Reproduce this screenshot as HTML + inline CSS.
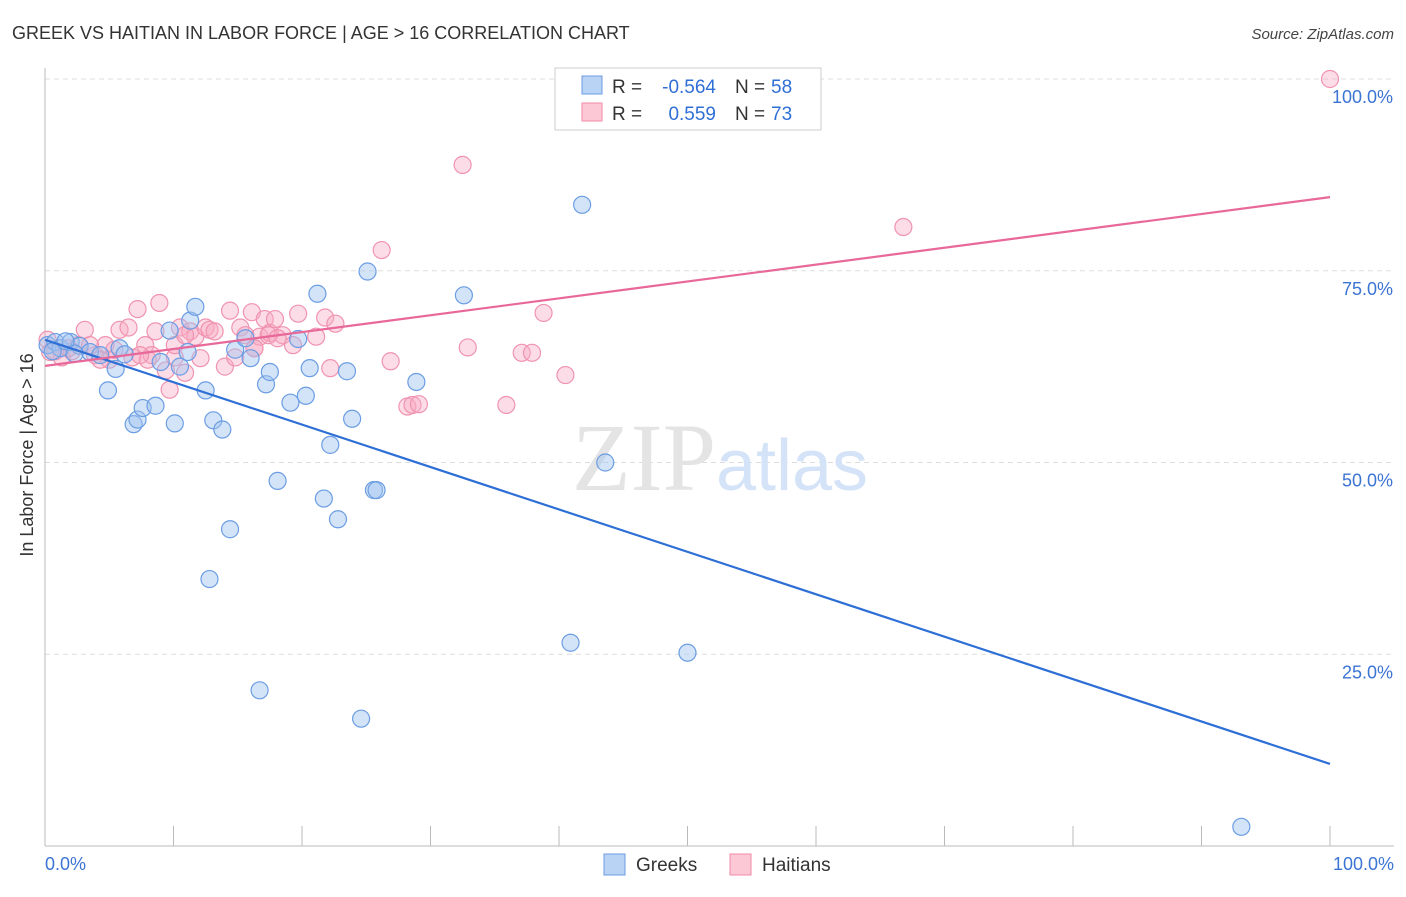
<!DOCTYPE html>
<html><head><meta charset="utf-8"><style>
body{margin:0;background:#fff;font-family:"Liberation Sans",sans-serif}
</style></head><body>
<svg id="chart" width="1406" height="892" xmlns="http://www.w3.org/2000/svg" style="font-family:'Liberation Sans',sans-serif">
<text x="12" y="39" font-size="18" fill="#333">GREEK VS HAITIAN IN LABOR FORCE | AGE &gt; 16 CORRELATION CHART</text>
<text x="1394" y="39" font-size="15" fill="#444" text-anchor="end" font-style="italic">Source: ZipAtlas.com</text>
<g id="grid"></g>
<text x="720" y="490" font-size="96" text-anchor="middle" fill="#e4e4e4" font-family="Liberation Serif">ZIP<tspan fill="#d4e3f7" font-family="Liberation Sans" font-size="72">atlas</tspan></text>
<g id="pts"></g>
<g id="lines"></g>
<text transform="translate(33,455) rotate(-90)" font-size="18" fill="#333" text-anchor="middle">In Labor Force | Age &gt; 16</text>
<g>
<rect x="555" y="68" width="266" height="62" fill="#fff" stroke="#ccc"/>
<rect x="582" y="76" width="20" height="18" fill="#b9d3f5" stroke="#6a9be0"/>
<rect x="582" y="103" width="20" height="18" fill="#fcc8d6" stroke="#f08aa8"/>
<text x="612" y="93" font-size="19" fill="#333">R =</text>
<text x="716" y="93" font-size="19" fill="#2f6fd6" text-anchor="end">-0.564</text>
<text x="735" y="93" font-size="19" fill="#333">N =</text>
<text x="771" y="93" font-size="19" fill="#2f6fd6">58</text>
<text x="612" y="120" font-size="19" fill="#333">R =</text>
<text x="716" y="120" font-size="19" fill="#2f6fd6" text-anchor="end">0.559</text>
<text x="735" y="120" font-size="19" fill="#333">N =</text>
<text x="771" y="120" font-size="19" fill="#2f6fd6">73</text>
</g>
<g>
<rect x="604" y="854" width="21" height="21" fill="#b9d3f5" stroke="#6a9be0"/>
<text x="636" y="871" font-size="19" fill="#333">Greeks</text>
<rect x="730" y="854" width="21" height="21" fill="#fcc8d6" stroke="#f08aa8"/>
<text x="762" y="871" font-size="19" fill="#333">Haitians</text>
</g>
</svg>
<script>
const yTicks=[25,50,75,100];
const yTickLabels=["25.0%","50.0%","75.0%","100.0%"];
const xEndLabels=["0.0%","100.0%"];
const greekX=[0.2,0.8,1.2,2,2.7,3.5,4.3,4.9,5.5,5.8,6.2,6.9,7.2,7.6,8.6,9,9.7,10.1,10.5,11.1,11.3,11.7,12.5,13.1,12.8,13.8,14.4,14.8,15.6,16,16.7,17.2,17.5,18.1,19.1,19.7,20.3,20.6,21.2,21.7,22.2,22.8,23.5,23.9,24.6,25.1,25.6,25.8,28.9,32.6,40.9,41.8,43.6,50,93.1,0.6,1.6,2.3];
const greekY=[65.3,65.7,64.9,65.7,65.2,64.4,64,59.4,62.2,64.9,64.1,55,55.6,57.1,57.4,63.1,67.2,55.1,62.5,64.4,68.5,70.3,59.4,55.5,34.8,54.3,41.3,64.7,66.2,63.6,20.3,60.2,61.8,47.6,57.8,66.1,58.7,62.3,72,45.3,52.3,42.6,61.9,55.7,16.6,74.9,46.4,46.4,60.5,71.8,26.5,83.6,50,25.2,2.5,64.5,65.8,64.2];
const haitX=[0.2,0.8,1.3,2.1,2.6,3.1,3.9,4.7,5,5.8,6.5,6.8,7.2,7.8,8,8.3,8.6,8.9,9.4,9.7,10.1,10.5,10.9,11.3,11.7,12.1,12.5,12.8,13.2,14,14.4,14.8,15.2,15.6,16.1,16.3,16.7,17.1,17.5,17.9,18.5,19.3,19.7,21.1,21.8,22.2,22.6,26.2,26.9,28.2,28.6,29.1,32.5,32.9,35.9,37.1,37.9,38.8,40.5,66.8,100,0.4,1.8,3.5,4.3,5.4,7.4,10.1,10.9,16.3,17.4,18.1];
const haitY=[66,64.5,63.7,64.5,65.3,67.3,64,65.3,63.4,67.3,67.6,63.7,70,65.3,63.4,64,67.1,70.8,62,59.5,63.7,67.6,61.7,67.1,66.4,63.6,67.6,67.3,67.1,62.5,69.8,63.7,67.6,66.6,69.6,64.9,66.4,68.7,66.9,68.7,66.6,65.3,69.4,66.4,68.9,62.3,68.1,77.7,63.2,57.3,57.5,57.6,88.8,65,57.5,64.3,64.3,69.5,61.4,80.7,100,64.4,64.9,65.3,63.4,64.7,64,65.3,66.6,64.9,66.6,66.2];
const fitBlue=[66,10.7], fitPink=[62.6,84.6];
const X=v=>45+v*12.85, Y=v=>846-v*7.67;
const ns="http://www.w3.org/2000/svg";
function mk(t,a,p){const e=document.createElementNS(ns,t);for(const k in a)e.setAttribute(k,a[k]);p.appendChild(e);return e;}
const grid=document.getElementById('grid');
yTicks.forEach((t,i)=>{
 const l=mk('line',{x1:45,x2:1394,y1:Y(t),y2:Y(t),stroke:'#ddd','stroke-dasharray':'5,4'},grid);
 
 
 const tx=mk('text',{x:1393,y:Y(t)+24,'font-size':18,fill:'#3c74d4','text-anchor':'end'},grid);
 tx.textContent=yTickLabels[i];
 
 
});
const ax=mk('line',{x1:45,x2:45,y1:68,y2:846,stroke:'#bbb'},grid);


const bx=mk('line',{x1:45,x2:1394,y1:846,y2:846,stroke:'#bbb'},grid);


for(let i=1;i<=10;i++){const t=mk('line',{x1:X(i*10),x2:X(i*10),y1:826,y2:846,stroke:'#bbb'},grid);
 
 }
[[0,'start'],[100,'end']].forEach((d,i)=>{const t=mk('text',{x:i?1394:45,y:870,'font-size':18,fill:'#3c74d4','text-anchor':d[1]},grid);t.textContent=xEndLabels[i];
 
 });
const pts=document.getElementById('pts');
haitX.forEach((x,i)=>{const c=mk('circle',{cx:X(x),cy:Y(haitY[i]),r:8.5,fill:'rgba(248,170,195,0.4)',stroke:'#f093b0','stroke-width':1.2},pts);
 
 });
greekX.forEach((x,i)=>{const c=mk('circle',{cx:X(x),cy:Y(greekY[i]),r:8.5,fill:'rgba(160,195,240,0.45)',stroke:'#6b9de3','stroke-width':1.2},pts);
 
 });
const lines=document.getElementById('lines');
const lb=mk('line',{x1:X(0),y1:Y(fitBlue[0]),x2:X(100),y2:Y(fitBlue[1]),stroke:'#2e6fd6','stroke-width':2.2},lines);


const lp=mk('line',{x1:X(0),y1:Y(fitPink[0]),x2:X(100),y2:Y(fitPink[1]),stroke:'#e8689a','stroke-width':2.2},lines);


</script>
</body></html>
